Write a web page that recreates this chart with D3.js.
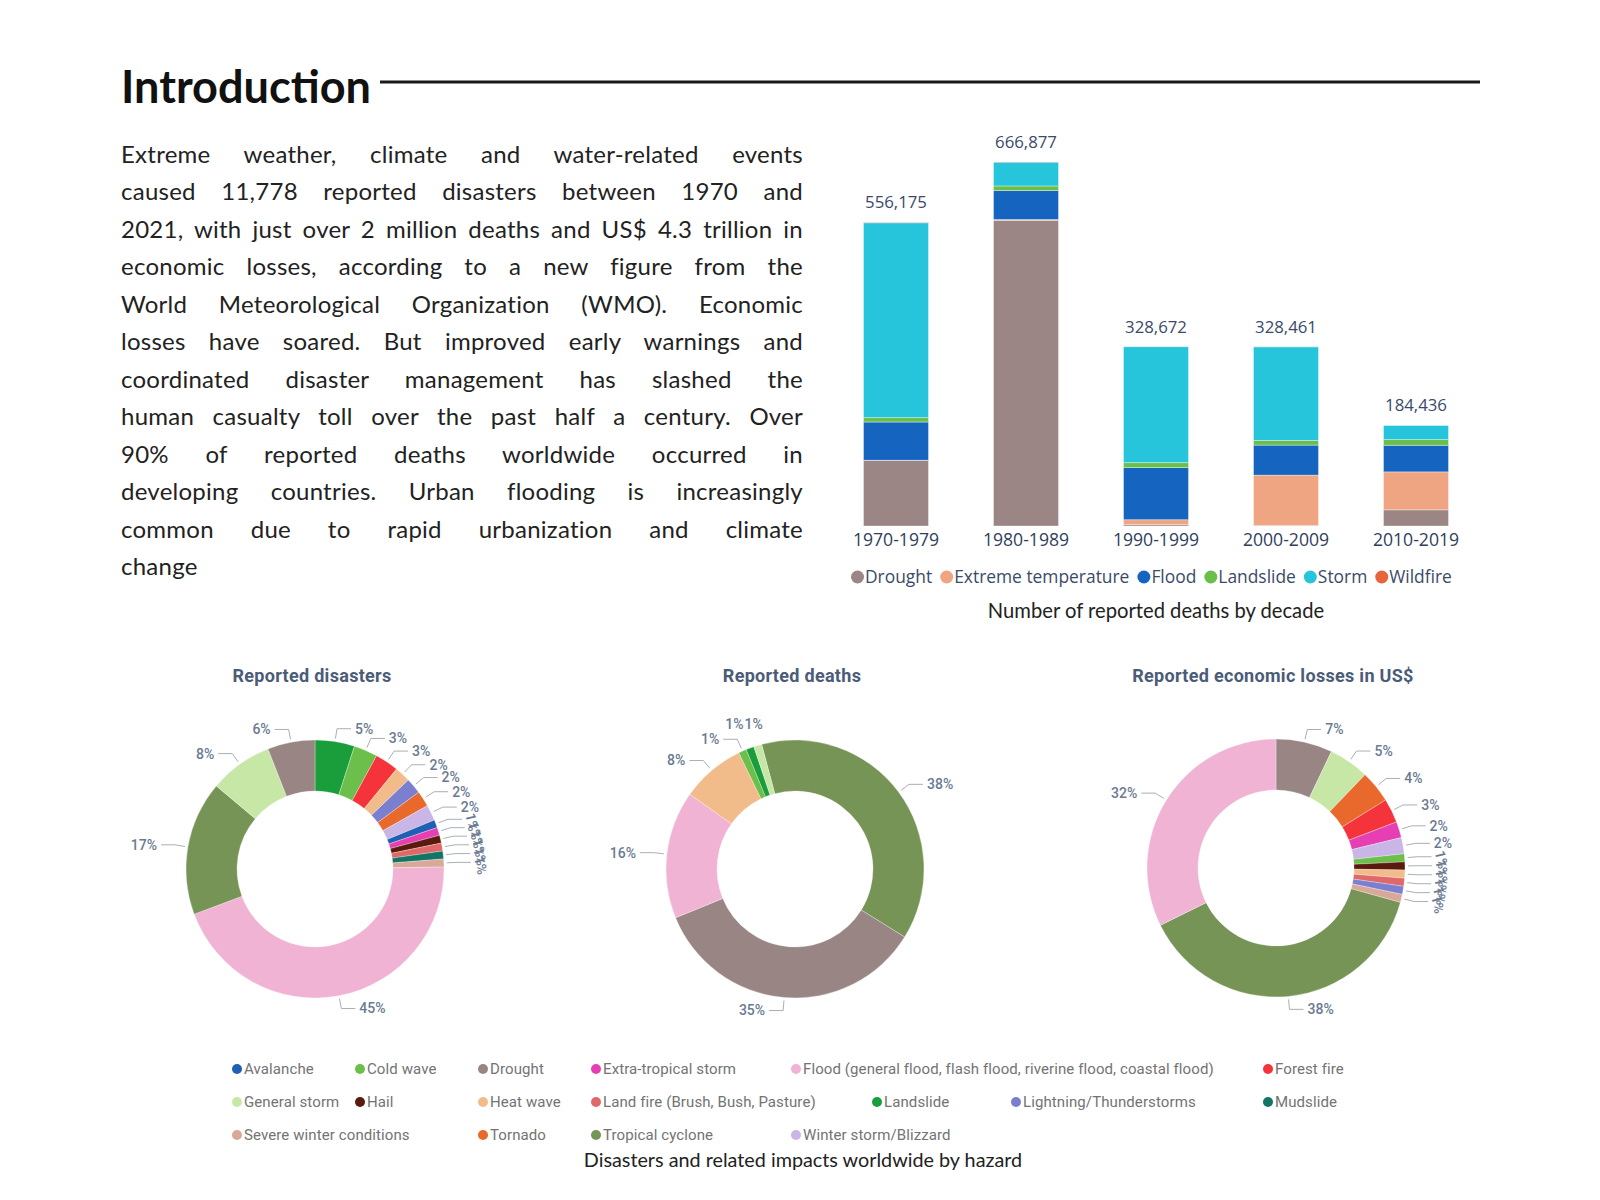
<!DOCTYPE html>
<html>
<head>
<meta charset="utf-8">
<script src="https://cdn.jsdelivr.net/npm/d3@7"></script>
<style>
  body { margin: 0; background: #fff; }
  svg { display: block; }
</style>
</head>
<body>
<script>
// ---- text ----
var titleText = "Introduction";
var paragraphLines = [
  "Extreme weather, climate and water-related events",
  "caused 11,778 reported disasters between 1970 and",
  "2021, with just over 2 million deaths and US$ 4.3 trillion in",
  "economic losses, according to a new figure from the",
  "World Meteorological Organization (WMO). Economic",
  "losses have soared. But improved early warnings and",
  "coordinated disaster management has slashed the",
  "human casualty toll over the past half a century. Over",
  "90% of reported deaths worldwide occurred in",
  "developing countries. Urban flooding is increasingly",
  "common due to rapid urbanization and climate",
  "change"
];

// ---- bar chart data (deaths by decade) ----
var decades = ["1970-1979", "1980-1989", "1990-1999", "2000-2009", "2010-2019"];
var deathTypes = ["Drought", "Extreme temperature", "Flood", "Landslide", "Storm", "Wildfire"];
var drought     = [120000, 560000,   2500,   1200, 29600];
var extremeTemp = [   500,   1500,   9000,  92000, 69600];
var flood       = [ 70000,  53000,  95500,  55000, 48700];
var landslide   = [  8000,   8500,   9000,   8500, 10400];
var storm       = [357000,  43500, 212500, 171500, 26100];
var wildfire    = [   675,    377,    172,    261,    36];
var decadeTotals = [556175, 666877, 328672, 328461, 184436];
var deathColors = ["#9b8585", "#f0a582", "#1565c0", "#6abf4b", "#26c5dc", "#e8643a"];

// ---- donut data ----
var FLOOD = "Flood (general flood, flash flood, riverine flood, coastal flood)";
var LANDFIRE = "Land fire (Brush, Bush, Pasture)";

var disasterNames = ["Landslide", "Cold wave", "Forest fire", "Heat wave", "Lightning/Thunderstorms", "Tornado",
  "Winter storm/Blizzard", "Avalanche", "Extra-tropical storm", "Hail", LANDFIRE, "Mudslide",
  "Severe winter conditions", FLOOD, "Tropical cyclone", "General storm", "Drought"];
var disasterShares = [5, 3, 3, 2, 2, 2, 2, 1, 1, 1, 1, 1, 1, 45, 17, 8, 6];

var deathNames = ["Tropical cyclone", "Drought", FLOOD, "Heat wave", "Cold wave", "Landslide", "General storm"];
var deathShares = [38, 35, 16, 8, 1, 1, 1];

var lossNames = ["Drought", "General storm", "Tornado", "Forest fire", "Extra-tropical storm", "Winter storm/Blizzard",
  "Cold wave", "Hail", "Heat wave", LANDFIRE, "Lightning/Thunderstorms", "Severe winter conditions",
  "Tropical cyclone", FLOOD];
var lossShares = [7, 5, 4, 3, 2, 2, 1, 1, 1, 1, 1, 1, 38, 32];

var hazardNames = ["Avalanche", "Cold wave", "Drought", "Extra-tropical storm", FLOOD, "Forest fire",
  "General storm", "Hail", "Heat wave", LANDFIRE, "Landslide", "Lightning/Thunderstorms", "Mudslide",
  "Severe winter conditions", "Tornado", "Tropical cyclone", "Winter storm/Blizzard"];
var hazardColors = ["#1f5fb4", "#6cbf4a", "#9a8585", "#e63fb3", "#f1b3d3", "#f4343a",
  "#c7e7a7", "#5b1a0e", "#f2bb8a", "#e06868", "#1a9e3c", "#7b7fd0", "#137563",
  "#d8a898", "#e8692b", "#769455", "#c9b5e6"];

// legend rows for hazards (layout of the original legend)
var legendRows = [
  ["Avalanche", "Cold wave", "Drought", "Extra-tropical storm", FLOOD, "Forest fire"],
  ["General storm", "Hail", "Heat wave", LANDFIRE, "Landslide", "Lightning/Thunderstorms", "Mudslide"],
  ["Severe winter conditions", "Tornado", "Tropical cyclone", "Winter storm/Blizzard"]
];
var legendRowX = [
  [237, 360, 483, 596, 796, 1268],
  [237, 360, 483, 596, 877, 1016, 1268],
  [237, 483, 596, 796]
];

var width = 1600, height = 1200;
var svg = d3.select("body").append("svg").attr("width", width).attr("height", height);

var bodyFont = "Lato, 'Open Sans', sans-serif";
var uiFont = "'Open Sans', 'Noto Sans', sans-serif";
var pbiFont = "Roboto, 'Noto Sans', sans-serif";

//title + rule
svg.append("text")
  .attr("x", 121).attr("y", 103)
  .attr("font-family", bodyFont).attr("font-weight", 700).attr("font-size", 46)
  .attr("textLength", 250).attr("lengthAdjust", "spacingAndGlyphs")
  .attr("fill", "#111")
  .text(titleText);
svg.append("line")
  .attr("x1", 380).attr("x2", 1480).attr("y1", 82).attr("y2", 82)
  .attr("stroke", "#1a1a1a").attr("stroke-width", 3);

//justified paragraph
var paraLeft = 121, paraWidth = 682, paraTop = 163, lineGap = 37.45;
paragraphLines.forEach(function(line, i){
  var t = svg.append("text")
    .attr("x", paraLeft).attr("y", paraTop + i * lineGap)
    .attr("font-family", bodyFont).attr("font-size", 24)
    .attr("letter-spacing", 0.25)
    .attr("fill", "#222")
    .text(line);
  if (i < paragraphLines.length - 1) {
    var natural = t.node().getComputedTextLength();
    var spaces = line.split(" ").length - 1;
    if (spaces > 0) t.attr("word-spacing", (paraWidth - natural) / spaces);
  }
});

// ================= bar chart =================
function drawBars(){
  var x = d3.scaleBand().domain(decades).range([831, 1481]).paddingInner(0.5).paddingOuter(0.25);
  var y = d3.scaleLinear().domain([0, d3.max(decadeTotals)]).range([526, 162]);

  var rows = decades.map(function(d, i){
    return { decade: d, Drought: drought[i], "Extreme temperature": extremeTemp[i], Flood: flood[i],
             Landslide: landslide[i], Storm: storm[i], Wildfire: wildfire[i] };
  });
  var stacked = d3.stack().keys(deathTypes)(rows);
  var color = d3.scaleOrdinal().domain(deathTypes).range(deathColors);

  var g = svg.append("g");
  g.selectAll("g.layer").data(stacked).join("g")
    .attr("fill", function(d){ return color(d.key); })
    .selectAll("rect").data(function(d){ return d; }).join("rect")
      .attr("x", function(d){ return x(d.data.decade); })
      .attr("width", x.bandwidth())
      .attr("y", function(d){ return y(d[1]); })
      .attr("height", function(d){ return Math.max(0, y(d[0]) - y(d[1])); })
      .attr("stroke", "rgba(255,255,255,0.45)").attr("stroke-width", 0.8);

  // totals
  g.selectAll("text.total").data(decades).join("text")
    .attr("x", function(d){ return x(d) + x.bandwidth() / 2; })
    .attr("y", function(d, i){ return y(decadeTotals[i]) - 14; })
    .attr("text-anchor", "middle")
    .attr("font-family", uiFont).attr("font-size", 16.8)
    .attr("fill", "#3a4a68")
    .text(function(d, i){ return d3.format(",")(decadeTotals[i]); });

  var xAxis = svg.append("g")
    .attr("transform", "translate(0,526)")
    .call(d3.axisBottom(x).tickSize(0).tickPadding(8));
  xAxis.select(".domain").remove();
  xAxis.selectAll("text")
    .attr("font-family", uiFont).attr("font-size", 17.6).attr("fill", "#2f3e5c");

  // legend, flowing
  var lx = 851, ly = 577;
  deathTypes.forEach(function(k){
    svg.append("circle").attr("cx", lx + 6.5).attr("cy", ly).attr("r", 6.5).attr("fill", color(k));
    var t = svg.append("text").attr("x", lx + 14).attr("y", ly).attr("dy", "0.35em")
      .attr("font-family", uiFont).attr("font-size", 17.4).attr("fill", "#3a4a68").text(k);
    lx = lx + 14 + t.node().getComputedTextLength() + 8;
  });

  svg.append("text").attr("x", 1156).attr("y", 618).attr("text-anchor", "middle")
    .attr("font-family", bodyFont).attr("font-size", 20.2).attr("fill", "#222")
    .text("Number of reported deaths by decade");
}
drawBars();

// ================= donuts =================
var hazardColor = d3.scaleOrdinal().domain(hazardNames).range(hazardColors);
var R = 129, r0 = 78;

// tinyMode: "rotate" -> 1% labels turned sideways, "row" -> 1% labels in a row above the first one
function drawDonut(cx, cy, title, names, shares, startDeg, tinyMode){
  var g = svg.append("g").attr("transform", "translate(" + cx + "," + cy + ")");
  var data = names.map(function(n, i){ return { name: n, value: shares[i] }; });
  var start = startDeg * Math.PI / 180;
  var pie = d3.pie().sort(null).value(function(d){ return d.value; })
    .startAngle(start).endAngle(start + 2 * Math.PI);
  var arc = d3.arc().innerRadius(r0).outerRadius(R);
  var arcs = pie(data);

  g.selectAll("path").data(arcs).join("path")
    .attr("d", arc)
    .attr("fill", function(d){ return hazardColor(d.data.name); })
    .attr("stroke", "#fff").attr("stroke-width", 0.3);

  var rowStart = null;
  arcs.forEach(function(d){
    var a = (d.startAngle + d.endAngle) / 2;
    var side = Math.sin(a) >= 0 ? 1 : -1;
    var p0 = [Math.sin(a) * (R + 3), -Math.cos(a) * (R + 3)];
    var p1 = [Math.sin(a) * (R + 13), -Math.cos(a) * (R + 13)];
    var p2 = [p1[0] + side * 14, p1[1]];
    var tiny = d.data.value <= 1;
    var t = g.append("text")
      .attr("font-family", pbiFont).attr("font-size", 14).attr("font-weight", 500)
      .attr("fill", "#6b7a93")
      .attr("dy", "0.35em")
      .text(d.data.value + "%");

    if (tiny && tinyMode === "row" && rowStart) {
      t.attr("x", rowStart.x).attr("y", rowStart.y).attr("text-anchor", "start");
      rowStart.x += t.node().getComputedTextLength() + 1;
      return;
    }
    g.append("polyline")
      .attr("points", [p0, p1, p2].map(function(p){ return p.join(","); }).join(" "))
      .attr("fill", "none").attr("stroke", "#a9aeb8").attr("stroke-width", 1);
    var tx = p2[0] + side * 4, ty = p2[1];
    if (tiny && tinyMode === "rotate") {
      t.attr("transform", "translate(" + (tx + 4) + "," + (ty - 6) + ") rotate(78)")
        .attr("text-anchor", "start");
    } else {
      t.attr("x", tx).attr("y", ty).attr("text-anchor", side > 0 ? "start" : "end");
      if (tiny && tinyMode === "row") rowStart = { x: p1[0] - 12, y: p1[1] - 15 };
    }
  });

  svg.append("text").attr("x", cx - 3).attr("y", 682).attr("text-anchor", "middle")
    .attr("font-family", pbiFont).attr("font-weight", 700).attr("font-size", 18)
    .attr("letter-spacing", 0.3)
    .attr("fill", "#4b5b78")
    .text(title);
}

drawDonut(315, 869, "Reported disasters", disasterNames, disasterShares, 0, "rotate");
drawDonut(795, 869, "Reported deaths", deathNames, deathShares, -15, "row");
drawDonut(1276, 868, "Reported economic losses in US$", lossNames, lossShares, 0, "rotate");

// hazard legend
legendRows.forEach(function(row, ri){
  var ly = 1069 + ri * 33;
  row.forEach(function(name, ci){
    var lx = legendRowX[ri][ci];
    svg.append("circle").attr("cx", lx).attr("cy", ly).attr("r", 5).attr("fill", hazardColor(name));
    svg.append("text").attr("x", lx + 7).attr("y", ly).attr("dy", "0.35em")
      .attr("font-family", pbiFont).attr("font-size", 15).attr("letter-spacing", 0.1)
      .attr("fill", "#737373").text(name);
  });
});

svg.append("text").attr("x", 803).attr("y", 1167).attr("text-anchor", "middle")
  .attr("font-family", bodyFont).attr("font-size", 19.8).attr("fill", "#222")
  .text("Disasters and related impacts worldwide by hazard");
</script>
</body>
</html>
